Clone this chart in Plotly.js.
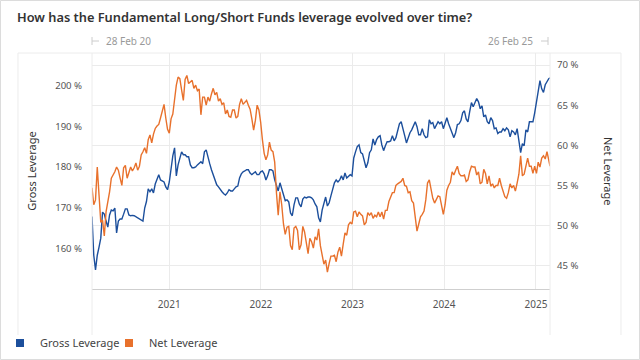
<!DOCTYPE html>
<html>
<head>
<meta charset="utf-8">
<script src="https://cdn.plot.ly/plotly-3.0.1.min.js"></script>
<style>html,body{margin:0;padding:0;background:#fff;}#chart{width:640px;height:360px;}</style>
</head>
<body>
<div id="chart"></div>
<script>
const dates = [
"2020-02-28","2020-03-06","2020-03-13","2020-03-20","2020-03-27","2020-04-03","2020-04-10","2020-04-17","2020-04-24","2020-05-01","2020-05-08","2020-05-15","2020-05-22","2020-05-29","2020-06-05","2020-06-12","2020-06-19","2020-06-26","2020-07-03","2020-07-10","2020-07-17","2020-07-24","2020-07-31","2020-08-07","2020-08-14","2020-08-21","2020-08-28","2020-09-04","2020-09-11","2020-09-18","2020-09-25","2020-10-02","2020-10-09","2020-10-16","2020-10-23","2020-10-30","2020-11-06","2020-11-13","2020-11-20","2020-11-27","2020-12-04","2020-12-11","2020-12-18","2020-12-25",
"2021-01-01","2021-01-08","2021-01-15","2021-01-22","2021-01-29","2021-02-05","2021-02-12","2021-02-19","2021-02-26","2021-03-05","2021-03-12","2021-03-19","2021-03-26","2021-04-02","2021-04-09","2021-04-16","2021-04-23","2021-04-30","2021-05-07","2021-05-14","2021-05-21","2021-05-28","2021-06-04","2021-06-11","2021-06-18","2021-06-25","2021-07-02","2021-07-09","2021-07-16","2021-07-23","2021-07-30","2021-08-06","2021-08-13","2021-08-20","2021-08-27","2021-09-03","2021-09-10","2021-09-17","2021-09-24","2021-10-01","2021-10-08","2021-10-15","2021-10-22","2021-10-29","2021-11-05","2021-11-12","2021-11-19","2021-11-26","2021-12-03","2021-12-10","2021-12-17","2021-12-24","2021-12-31",
"2022-01-07","2022-01-14","2022-01-21","2022-01-28","2022-02-04","2022-02-11","2022-02-18","2022-02-25","2022-03-04","2022-03-11","2022-03-18","2022-03-25","2022-04-01","2022-04-08","2022-04-15","2022-04-22","2022-04-29","2022-05-06","2022-05-13","2022-05-20","2022-05-27","2022-06-03","2022-06-10","2022-06-17","2022-06-24","2022-07-01","2022-07-08","2022-07-15","2022-07-22","2022-07-29","2022-08-05","2022-08-12","2022-08-19","2022-08-26","2022-09-02","2022-09-09","2022-09-16","2022-09-23","2022-09-30","2022-10-07","2022-10-14","2022-10-21","2022-10-28","2022-11-04","2022-11-11","2022-11-18","2022-11-25","2022-12-02","2022-12-09","2022-12-16","2022-12-23","2022-12-30",
"2023-01-06","2023-01-13","2023-01-20","2023-01-27","2023-02-03","2023-02-10","2023-02-17","2023-02-24","2023-03-03","2023-03-10","2023-03-17","2023-03-24","2023-03-31","2023-04-07","2023-04-14","2023-04-21","2023-04-28","2023-05-05","2023-05-12","2023-05-19","2023-05-26","2023-06-02","2023-06-09","2023-06-16","2023-06-23","2023-06-30","2023-07-07","2023-07-14","2023-07-21","2023-07-28","2023-08-04","2023-08-11","2023-08-18","2023-08-25","2023-09-01","2023-09-08","2023-09-15","2023-09-22","2023-09-29","2023-10-06","2023-10-13","2023-10-20","2023-10-27","2023-11-03","2023-11-10","2023-11-17","2023-11-24","2023-12-01","2023-12-08","2023-12-15","2023-12-22","2023-12-29",
"2024-01-05","2024-01-12","2024-01-19","2024-01-26","2024-02-02","2024-02-09","2024-02-16","2024-02-23","2024-03-01","2024-03-08","2024-03-15","2024-03-22","2024-03-29","2024-04-05","2024-04-12","2024-04-19","2024-04-26","2024-05-03","2024-05-10","2024-05-17","2024-05-24","2024-05-31","2024-06-07","2024-06-14","2024-06-21","2024-06-28","2024-07-05","2024-07-12","2024-07-19","2024-07-26","2024-08-02","2024-08-09","2024-08-16","2024-08-23","2024-08-30","2024-09-06","2024-09-13","2024-09-20","2024-09-27","2024-10-04","2024-10-11","2024-10-18","2024-10-25","2024-11-01","2024-11-08","2024-11-15","2024-11-22","2024-11-29","2024-12-06","2024-12-13","2024-12-20","2024-12-27",
"2025-01-03","2025-01-10","2025-01-17","2025-01-24","2025-01-31","2025-02-07","2025-02-14","2025-02-21","2025-02-26"
];

const grossLeverage = [
167.8,158.3,154.7,158.3,160.3,162.5,168.9,168.4,166.7,165.2,168.2,169.4,169.2,169.9,163.8,166.7,167.2,167.2,168.4,169.7,
169.7,168.2,168.0,168.1,168.0,167.7,167.5,167.2,167.0,166.7,169.9,171.5,174.6,173.9,174.6,173.6,175.8,177.1,178.1,176.8,
176.6,176.3,175.1,174.4,176.3,180.0,182.7,184.7,177.8,180.5,182.2,183.7,183.0,183.0,182.5,182.5,180.5,179.8,179.8,180.0,
180.5,181.0,181.3,180.8,183.7,184.2,182.2,180.8,179.3,178.1,176.8,175.6,175.1,174.4,173.9,173.4,173.1,173.6,174.4,174.1,
174.1,174.6,175.1,175.3,177.3,178.3,178.8,179.0,179.3,179.3,178.5,178.1,178.5,178.8,178.1,178.1,178.8,179.0,178.3,176.8,
177.8,179.3,179.3,179.0,176.8,175.3,174.1,176.1,174.6,172.9,171.7,171.9,171.4,168.7,168.0,170.7,172.4,172.4,170.9,170.2,
172.1,172.6,172.4,172.6,172.6,172.4,171.9,170.9,170.2,167.5,166.5,169.4,171.4,172.6,170.4,171.2,172.9,174.4,176.1,176.8,
176.3,176.8,177.8,176.8,178.5,177.3,177.6,178.1,177.8,182.2,183.7,185.0,185.4,183.5,183.2,181.7,179.8,181.0,183.5,184.2,
186.9,185.4,186.7,187.4,187.7,185.4,184.0,185.2,186.2,186.2,186.4,187.7,186.4,187.2,188.6,190.6,191.1,189.6,187.7,185.9,
187.4,188.4,189.1,190.1,191.1,189.9,187.9,187.9,189.4,187.9,187.2,187.4,191.6,190.6,190.9,189.4,190.1,191.1,190.6,191.1,
189.4,190.6,192.1,190.6,189.4,188.2,187.2,188.4,190.4,190.6,191.4,193.3,193.8,191.8,191.1,193.6,195.8,194.8,195.8,196.8,
196.0,194.3,195.0,192.3,192.8,191.1,190.6,192.1,191.4,189.4,189.6,188.2,188.6,188.6,189.4,188.9,189.6,189.1,187.4,188.9,
188.6,187.9,189.4,185.7,183.5,185.7,185.2,189.1,188.6,191.1,191.1,191.1,193.3,196.0,198.7,201.2,199.2,198.3,200.2,201.0,
201.7,201.9
];

const netLeverage = [
54.7,52.6,53.2,57.3,53.8,50.4,50.7,48.7,51.7,52.8,54.2,55.9,56.3,56.7,57.3,56.9,55.9,55.0,57.2,57.5,
55.9,56.5,57.3,56.8,57.2,57.8,56.9,57.4,58.8,59.2,59.7,59.0,60.7,61.3,60.3,61.4,62.1,62.4,62.6,63.4,
64.3,65.1,63.4,62.0,61.5,63.3,63.9,65.9,67.5,68.5,68.3,66.9,65.6,68.2,68.7,67.7,67.9,68.1,67.1,67.5,
66.8,67.0,63.8,66.0,66.0,65.0,66.0,65.5,66.4,67.1,66.3,66.6,65.5,65.8,65.1,65.3,63.9,64.4,63.6,63.5,
64.4,64.4,63.4,63.6,65.1,65.8,65.1,65.4,65.6,65.0,64.5,63.3,61.9,63.1,65.0,64.4,62.9,60.7,59.0,58.2,
58.8,60.4,59.4,59.2,57.9,54.1,51.3,54.2,52.6,50.2,48.9,49.8,49.9,47.5,47.0,49.7,49.9,49.4,47.0,47.6,
49.9,49.2,47.5,46.5,48.4,48.0,47.2,48.6,48.2,49.6,47.5,46.2,45.2,45.7,44.2,45.3,46.2,46.2,46.3,45.5,
46.7,47.3,46.2,47.7,49.1,48.8,50.1,50.4,50.2,51.7,51.8,51.1,51.7,51.4,51.2,50.1,50.4,51.6,51.3,51.6,
50.9,51.3,51.1,51.7,51.1,51.7,50.8,51.9,51.9,53.0,53.6,54.1,54.1,55.0,55.2,55.3,55.5,55.9,55.0,54.9,
54.1,54.2,53.1,52.8,51.3,49.3,50.2,51.1,51.4,51.8,53.2,55.3,55.7,54.4,53.4,52.8,53.2,53.7,53.6,52.6,
51.4,52.6,54.4,55.0,55.4,56.7,56.3,56.9,57.4,56.5,56.2,56.2,56.3,55.5,55.7,56.7,57.4,57.3,57.3,56.3,
56.7,55.2,55.4,57.0,56.5,55.2,56.2,54.9,55.2,54.7,55.0,55.0,55.9,55.0,54.2,53.6,53.4,54.1,55.2,54.7,
55.0,54.3,55.3,56.4,58.7,56.2,56.4,57.3,58.4,57.4,57.4,56.5,57.4,56.5,57.9,57.3,58.4,58.7,58.3,59.2,
57.8,57.4
];

const seriesNames = ["Gross Leverage", "Net Leverage"];
const seriesColors = ["#1c4f9c", "#e8712c"];
const grossTicks = [160, 170, 180, 190, 200];
const netTicks = [45, 50, 55, 60, 65, 70];
const rangeLabels = ["28 Feb 20", "26 Feb 25"];
const titleText = "How has the Fundamental Long/Short Funds leverage evolved over time?";

const FONT = "Noto Sans, Open Sans, sans-serif";
const pct = v => v + " %";

const traces = [
  {x: dates, y: grossLeverage, type: "scatter", mode: "lines", name: seriesNames[0],
   line: {color: seriesColors[0], width: 1.4}, yaxis: "y", showlegend: false},
  {x: dates, y: netLeverage, type: "scatter", mode: "lines", name: seriesNames[1],
   line: {color: seriesColors[1], width: 1.4}, yaxis: "y2", showlegend: false},
  {x: [null], y: [null], type: "scatter", mode: "markers", name: seriesNames[0],
   marker: {symbol: "square", size: 8, color: seriesColors[0]}, showlegend: true},
  {x: [null], y: [null], type: "scatter", mode: "markers", name: seriesNames[1],
   marker: {symbol: "square", size: 8, color: seriesColors[1]}, showlegend: true}
];

const panel = "#ececec";
const L = -0.1616, R = 1.155, B = -0.195;

const layout = {
  width: 640, height: 360,
  paper_bgcolor: "#ffffff", plot_bgcolor: "#ffffff",
  margin: {l: 92, r: 90, t: 53, b: 71, pad: 0},
  font: {family: FONT, color: "#555"},
  title: {text: titleText, x: 17/640, xanchor: "left", xref: "container",
          y: 1 - 18/360, yanchor: "middle", yref: "container",
          font: {family: FONT, size: 12.8, color: "#333", weight: 600}},
  xaxis: {type: "date", range: [dates[0], dates[dates.length - 1]],
          tickformat: "%Y", dtick: "M12", tick0: "2021-01-01",
          showgrid: true, gridcolor: "#ebebeb", gridwidth: 1,
          showline: true, linecolor: "#cfcfcf", linewidth: 1, zeroline: false,
          ticks: "outside", ticklen: 6, tickcolor: "rgba(0,0,0,0)",
          tickfont: {family: FONT, size: 10, color: "#555"}},
  yaxis: {range: [150, 208], tickmode: "array", tickvals: grossTicks, ticktext: grossTicks.map(pct),
          showgrid: false, zeroline: false, showline: false,
          ticks: "outside", ticklen: 7, tickcolor: "rgba(0,0,0,0)",
          tickfont: {family: FONT, size: 9.6, color: "#555"},
          title: {text: seriesNames[0], standoff: 16, font: {family: FONT, size: 11, color: "#333"}}},
  yaxis2: {range: [42.1, 71.5], tickmode: "array", tickvals: netTicks, ticktext: netTicks.map(pct),
           overlaying: "y", side: "right",
           showgrid: true, gridcolor: "#ebebeb", zeroline: false, showline: false,
           ticks: "outside", ticklen: 4, tickcolor: "rgba(0,0,0,0)",
           tickfont: {family: FONT, size: 9.6, color: "#555"}},
  legend: {orientation: "h", xref: "container", x: 0, yref: "container", y: 1 - 343/360,
           yanchor: "middle", xanchor: "left", font: {family: FONT, size: 11, color: "#444"},
           bgcolor: "rgba(0,0,0,0)", itemwidth: 30, entrywidth: 64, entrywidthmode: "pixels"},
  annotations: [
    {text: seriesNames[1], xref: "paper", yref: "paper", x: (609 - 92)/458, y: 0.5,
     textangle: 90, showarrow: false, xanchor: "center", yanchor: "middle",
     font: {family: FONT, size: 11, color: "#333"}},
    {text: rangeLabels[0], xref: "paper", yref: "paper", x: (104 - 92)/458, y: (289 - 41)/236,
     xanchor: "left", yanchor: "middle", showarrow: false, font: {family: FONT, size: 10, color: "#999"}},
    {text: rangeLabels[1], xref: "paper", yref: "paper", x: (535 - 92)/458, y: (289 - 41)/236,
     xanchor: "right", yanchor: "middle", showarrow: false, font: {family: FONT, size: 10, color: "#999"}}
  ],
  shapes: [
    {type: "line", xref: "paper", yref: "paper", x0: L, x1: R, y0: 1, y1: 1, line: {color: panel, width: 1}},
    {type: "line", xref: "paper", yref: "paper", x0: L, x1: L, y0: B, y1: 1, line: {color: panel, width: 1}},
    {type: "line", xref: "paper", yref: "paper", x0: 0, x1: 0, y0: B, y1: 1, line: {color: panel, width: 1}},
    {type: "line", xref: "paper", yref: "paper", x0: 1, x1: 1, y0: B, y1: 1, line: {color: panel, width: 1}},
    {type: "line", xref: "paper", yref: "paper", x0: R, x1: R, y0: B, y1: 1, line: {color: panel, width: 1}},
    {type: "rect", xref: "paper", yref: "paper", x0: -0.1998, x1: 1.1954, y0: -0.2987, y1: 1.2225,
     line: {color: "#dcdcdc", width: 1}},
    {type: "line", xref: "paper", yref: "paper", x0: 0, x1: 0, y0: (289-37)/236, y1: (289-45)/236, line: {color: "#cccccc", width: 1}},
    {type: "line", xref: "paper", yref: "paper", x0: 0, x1: 7/458, y0: (289-41)/236, y1: (289-41)/236, line: {color: "#cccccc", width: 1}},
    {type: "line", xref: "paper", yref: "paper", x0: (548-92)/458, x1: (548-92)/458, y0: (289-37)/236, y1: (289-45)/236, line: {color: "#cccccc", width: 1}},
    {type: "line", xref: "paper", yref: "paper", x0: (541-92)/458, x1: (548-92)/458, y0: (289-41)/236, y1: (289-41)/236, line: {color: "#cccccc", width: 1}}
  ],
  hovermode: false
};

Plotly.newPlot("chart", traces, layout, {displayModeBar: false, staticPlot: true});
</script>
</body>
</html>
